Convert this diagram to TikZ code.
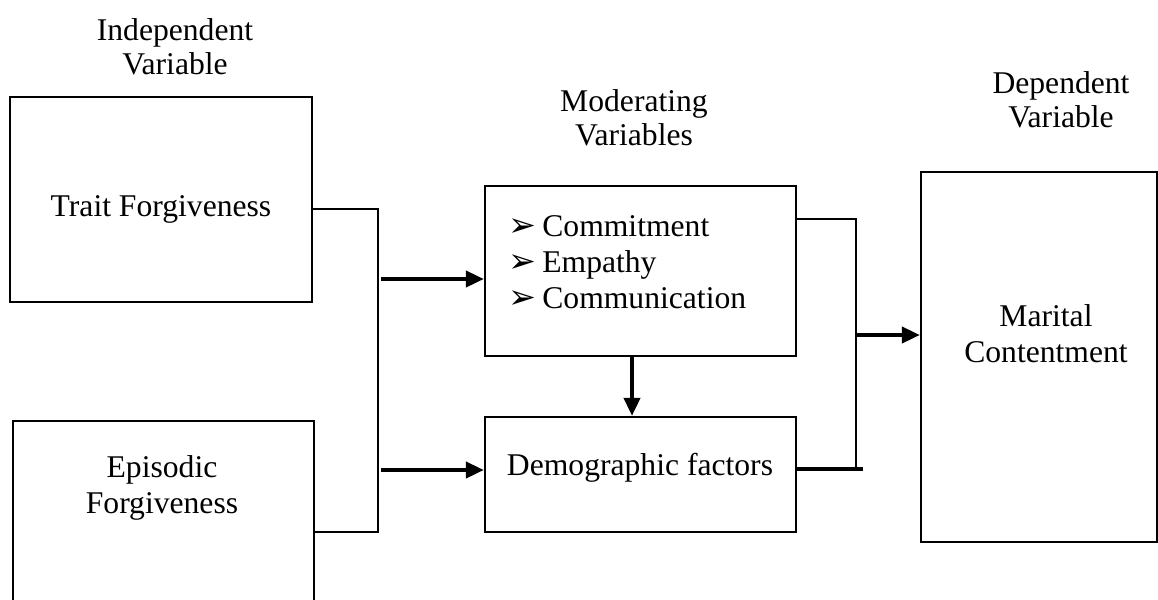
\documentclass[tikz,border=0pt]{standalone}
\usepackage{fontspec}
\setmainfont{Liberation Serif}
\newfontfamily\symfont{DejaVu Sans}
\usetikzlibrary{arrows.meta,positioning,calc}

\tikzset{
  varbox/.style={draw, line width=1.3pt, inner sep=0pt},
  link/.style={line width=1.2pt},
  flow/.style={line width=2.2pt, -{Triangle[length=0.36cm,width=0.32cm]}},
  heading/.style={align=center, font=\fontsize{18}{19.5}\selectfont},
}
\newcommand{\mybullet}{\makebox[0.68cm][l]{\symfont\fontsize{19}{19}\selectfont ➢}}

\begin{document}
\begin{tikzpicture}[x=0.02cm, y=-0.02cm, font=\fontsize{18}{20.5}\selectfont]
    \useasboundingbox (0,0) rectangle (1158,599);
    \clip (0,0) rectangle (1158,599);
    % headings
    \node[heading] (hind) at (175,47) {Independent\\Variable};
    \node[heading] (hmod) at (634,118) {Moderating\\Variables};
    \node[heading] (hdep) at (1061,100) {Dependent\\Variable};
    % independent variables
    \node[varbox, minimum width=6.04cm, minimum height=4.1cm] (trait) at (161,199.5) {};
    \node (traitt) at (161,209) {Trait Forgiveness};
    \node[varbox, anchor=north west, minimum width=6.02cm, minimum height=5.6cm] (epi) at (12,420) {};
    \node[align=center] (epit) at (162,488) {Episodic\\Forgiveness};
    % moderators
    \node[varbox, minimum width=6.22cm, minimum height=3.4cm] (mod) at (640.5,271) {};
    \node[align=left, anchor=west, inner sep=0pt] (modt) at (508,262)
        {\mybullet Commitment\\ \mybullet Empathy\\ \mybullet Communication};
    \node[varbox, minimum width=6.22cm, minimum height=2.3cm] (demo) at (640.5,474.5) {};
    \node (demot) at (640,468) {Demographic factors};
    % dependent variable
    \node[varbox, minimum width=4.72cm, minimum height=7.4cm] (dep) at (1039,357) {};
    \node[align=center] (dept) at (1046,334) {Marital\\Contentment};
    % left bus
    \coordinate (jTop) at (378,209);
    \coordinate (jBot) at (378,532);
    \draw[link] (trait.east |- jTop) -- (jTop) -- (jBot) -- (epi.east |- jBot);
    \coordinate (aTop) at (381,279);
    \coordinate (aBot) at (381,470);
    \draw[flow] (aTop) -- (aTop -| mod.west);
    \draw[flow] (aBot) -- (aBot -| demo.west);
    \draw[flow] ($(mod.south)+(-8.5,0)$) -- ($(demo.north)+(-8.5,0)$);
    % right bus
    \coordinate (kTop) at (856,219);
    \coordinate (kBot) at (856,469);
    \draw[link] (mod.east |- kTop) -- (kTop) -- (kBot);
    \draw[link, line width=1.8pt] (demo.east |- kBot) -- ++(66,0);
    \coordinate (kMid) at (857,335);
    \draw[flow] (kMid) -- (kMid -| dep.west);
\end{tikzpicture}
\end{document}
